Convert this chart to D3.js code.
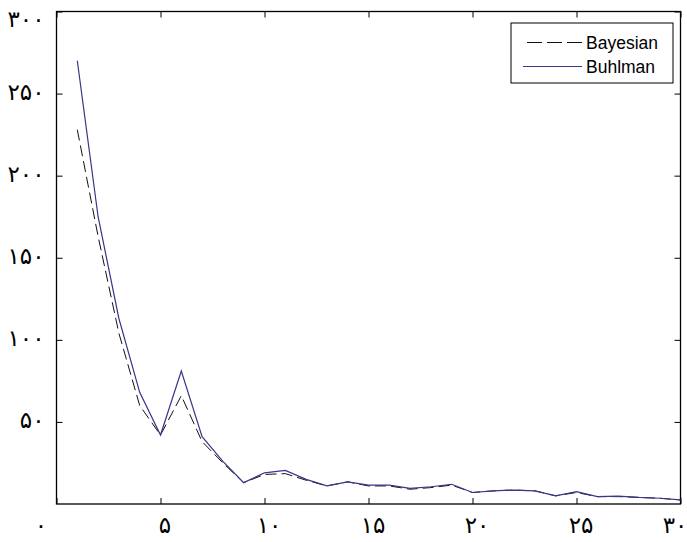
<!DOCTYPE html>
<html><head><meta charset="utf-8">
<script src="https://cdn.jsdelivr.net/npm/d3@7"></script>
<style>body{margin:0;background:#fff}</style>
</head><body>
<svg id="c" width="687" height="542"></svg>
<script>
const xs = [1,2,3,4,5,6,7,8,9,10,11,12,13,14,15,16,17,18,19,20,21,22,23,24,25,26,27,28,29,30];
const buhlman = [270,175,113,68,42,81,41,26,13,19,20.5,15,11,13.5,11.5,11.5,9.5,10.5,12,7,8,8.5,8,5,7.5,4.5,4.8,4,3.5,2.5];
const bayesian = [228,163,104,60,42,66,38,25,13,18,18.5,14.5,11,13.5,11,11,9,10,11.5,7,8,8.5,8,5,7,4.5,4.5,4,3.5,2.5];
const xTicks = [0,5,10,15,20,25,30];
const yTicks = [50,100,150,200,250,300];
const seriesNames = ["Bayesian","Buhlman"];
const fa = n => String(n).replace(/\d/g, d => "۰۱۲۳۴۵۶۷۸۹"[d]);

const svg = d3.select("#c");
const L=56.5, R=680.5, T=11.5, B=504;
const x = d3.scaleLinear().domain([0,30]).range([L,R]);
const y = d3.scaleLinear().domain([0,300]).range([B,T]);

svg.append("rect").attr("x",L).attr("y",T).attr("width",R-L).attr("height",B-T)
  .attr("fill","#fff").attr("stroke","#000").attr("stroke-width",1.3);

const lab = "DejaVu Sans";
const fs = 23;
const gb = svg.append("g").attr("transform",`translate(0,${B})`)
  .call(d3.axisBottom(x).tickValues(xTicks).tickSize(-6).tickPadding(15).tickFormat(fa));
gb.select(".domain").remove();
gb.selectAll("line").attr("stroke","#000");
gb.selectAll("text").attr("font-family",lab).attr("font-size",fs).attr("fill","#000")
  .attr("dy","0.6em")
  .attr("dx", d => d===0 ? -16 : (d===30 ? -6 : 4));
const gt = svg.append("g").attr("transform",`translate(0,${T})`)
  .call(d3.axisTop(x).tickValues(xTicks).tickSize(-6).tickFormat(""));
gt.select(".domain").remove(); gt.selectAll("line").attr("stroke","#000");
const gl = svg.append("g").attr("transform",`translate(${L},0)`)
  .call(d3.axisLeft(y).tickValues(yTicks).tickSize(-6).tickPadding(12).tickFormat(fa));
gl.select(".domain").remove();
gl.selectAll("line").attr("stroke","#000");
gl.selectAll("text").attr("font-family",lab).attr("font-size",fs).attr("fill","#000")
  .attr("dy", d => d===300 ? "0.65em" : "0.25em");
const gr = svg.append("g").attr("transform",`translate(${R},0)`)
  .call(d3.axisRight(y).tickValues(yTicks).tickSize(-6).tickFormat(""));
gr.select(".domain").remove(); gr.selectAll("line").attr("stroke","#000");

const line = d3.line().x((d,i)=>x(xs[i])).y(d=>y(d));
svg.append("path").datum(bayesian).attr("d",line).attr("fill","none")
  .attr("stroke","#111").attr("stroke-width",1).attr("stroke-dasharray","11,5");
svg.append("path").datum(buhlman).attr("d",line).attr("fill","none")
  .attr("stroke","#36368a").attr("stroke-width",1.2);

const lg = svg.append("g");
lg.append("rect").attr("x",511).attr("y",23).attr("width",162).attr("height",60)
  .attr("fill","#fff").attr("stroke","#000").attr("stroke-width",1);
const styles = [{c:"#111",dash:"15,5",x1:527},{c:"#36368a",dash:null,x1:523}];
seriesNames.forEach((n,i)=>{
  const yy = 42.5 + i*24;
  lg.append("line").attr("x1",styles[i].x1).attr("x2",582).attr("y1",yy).attr("y2",yy)
    .attr("stroke",styles[i].c).attr("stroke-width",1.2).attr("stroke-dasharray",styles[i].dash);
  lg.append("text").attr("x",586).attr("y",yy).attr("dy","0.35em")
    .attr("font-family","Liberation Sans, Arial").attr("font-size",17.5).text(n);
});
</script>
</body></html>
